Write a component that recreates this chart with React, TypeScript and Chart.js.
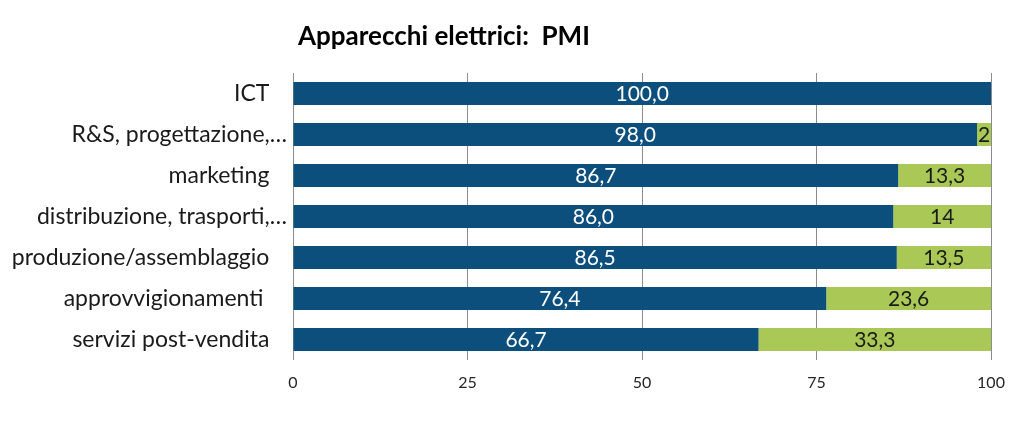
import React, { useEffect, useRef } from "react";
import { Chart, registerables } from "chart.js";

Chart.register(...registerables);

const title = "Apparecchi elettrici:  PMI";
const categories = [
  "ICT   ",
  "R&S, progettazione,…",
  "marketing   ",
  "distribuzione, trasporti,…",
  "produzione/assemblaggio   ",
  "approvvigionamenti    ",
  "servizi post-vendita   ",
];
const seriesBlue = [100.0, 98.0, 86.7, 86.0, 86.5, 76.4, 66.7];
const seriesGreen = [0, 2, 13.3, 14, 13.5, 23.6, 33.3];
const xTicks = [0, 25, 50, 75, 100];

const BLUE = "#0c4f7d";
const GREEN = "#a9c856";
const FONT = "Lato, 'Liberation Sans', sans-serif";

const fmtBlue = (v: number) => v.toFixed(1).replace(".", ",");
const fmtGreen = (v: number) => String(v).replace(".", ",");

const labelPlugin = {
  id: "barLabels",
  afterDatasetsDraw(chart: any) {
    const ctx = chart.ctx;
    ctx.save();
    ctx.textAlign = "center";
    ctx.textBaseline = "middle";
    ctx.font = `21px ${FONT}`;
    chart.data.datasets.forEach((ds: any, di: number) => {
      const meta = chart.getDatasetMeta(di);
      meta.data.forEach((bar: any, i: number) => {
        const v = ds.data[i];
        if (!v) return;
        const { x, base, y } = bar.getProps(["x", "base", "y"], true);
        const cx = (x + base) / 2;
        ctx.fillStyle = di === 0 ? "#ffffff" : "#1a1a1a";
        ctx.fillText(di === 0 ? fmtBlue(v) : fmtGreen(v), cx, y + 1);
      });
    });
    ctx.restore();
  },
};

const titlePlugin = {
  id: "customTitle",
  afterDraw(chart: any) {
    const ctx = chart.ctx;
    ctx.save();
    ctx.font = `bold 26px ${FONT}`;
    ctx.fillStyle = "#000000";
    ctx.textAlign = "left";
    ctx.textBaseline = "middle";
    ctx.fillText(title, 298, 37);
    ctx.restore();
  },
};

export default function App() {
  const ref = useRef<HTMLCanvasElement | null>(null);
  useEffect(() => {
    document.body.style.margin = "0";
    if (!ref.current) return;
    const chart = new Chart(ref.current, {
      type: "bar",
      data: {
        labels: categories,
        datasets: [
          {
            label: "blue",
            data: seriesBlue,
            backgroundColor: BLUE,
            barPercentage: 0.56,
            categoryPercentage: 1,
          },
          {
            label: "green",
            data: seriesGreen,
            backgroundColor: GREEN,
            barPercentage: 0.56,
            categoryPercentage: 1,
          },
        ],
      },
      options: {
        indexAxis: "y",
        animation: false,
        responsive: false,
        layout: { padding: { top: 73, right: 33, left: 0, bottom: 0 } },
        plugins: {
          legend: { display: false },
          title: { display: false },
          tooltip: { enabled: false },
        },
        scales: {
          x: {
            stacked: true,
            min: 0,
            max: 100,
            afterBuildTicks: (axis: any) => {
              axis.ticks = xTicks.map((v) => ({ value: v }));
            },
            afterFit: (axis: any) => {
              axis.height = 83;
            },
            grid: { color: "#8c8c8c", lineWidth: 1, drawTicks: false },
            border: { display: false },
            ticks: {
              font: { family: FONT, size: 16 },
              color: "#262626",
              padding: 13,
            },
          },
          y: {
            stacked: true,
            afterFit: (axis: any) => {
              axis.width = 293;
            },
            grid: { display: false, drawTicks: false },
            border: { display: false },
            ticks: {
              font: { family: FONT, size: 23 },
              color: "#1a1a1a",
              padding: 6,
            },
          },
        },
      },
      plugins: [labelPlugin, titlePlugin],
    });
    return () => chart.destroy();
  }, []);
  return (
    <div style={{ width: 1024, height: 443 }}>
      <canvas ref={ref} width={1024} height={443} style={{ display: "block" }} />
    </div>
  );
}
